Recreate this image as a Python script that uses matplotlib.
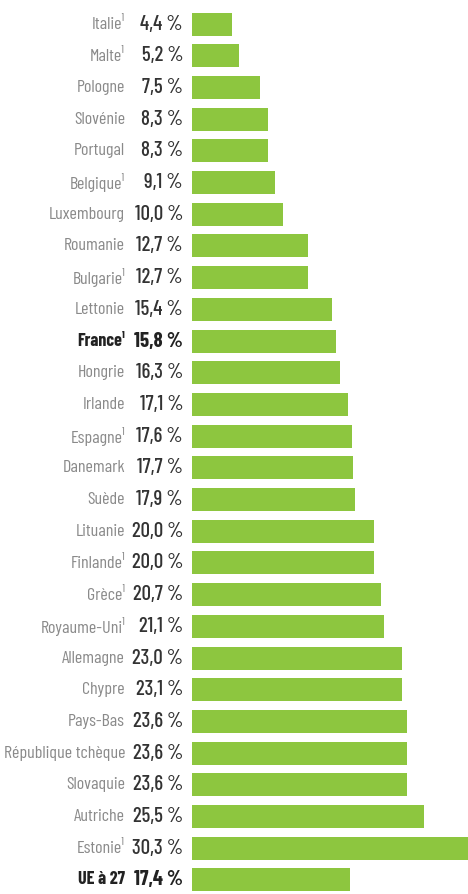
import matplotlib.pyplot as plt
import matplotlib.transforms as mtransforms

# Data
countries = ['Italie¹', 'Malte¹', 'Pologne', 'Slovénie', 'Portugal', 'Belgique¹',
             'Luxembourg', 'Roumanie', 'Bulgarie¹', 'Lettonie', 'France¹', 'Hongrie',
             'Irlande', 'Espagne¹', 'Danemark', 'Suède', 'Lituanie', 'Finlande¹',
             'Grèce¹', 'Royaume-Uni¹', 'Allemagne', 'Chypre', 'Pays-Bas',
             'République tchèque', 'Slovaquie', 'Autriche', 'Estonie¹', 'UE à 27']
values = [4.4, 5.2, 7.5, 8.3, 8.3, 9.1, 10.0, 12.7, 12.7, 15.4, 15.8, 16.3,
          17.1, 17.6, 17.7, 17.9, 20.0, 20.0, 20.7, 21.1, 23.0, 23.1, 23.6,
          23.6, 23.6, 25.5, 30.3, 17.4]
bold_rows = ['France¹', 'UE à 27']

family = ['Barlow Condensed', 'Roboto Condensed', 'DejaVu Sans']

W, H = 468, 894
fig = plt.figure(figsize=(W / 100, H / 100), dpi=100)
ax = fig.add_axes([192 / W, 0, 1 - 192 / W, 1])

step = 31.7
first = 24
ypos = list(range(len(countries)))
ax.barh(ypos, values, height=23 / step, color='#8dc63f')
ax.set_xlim(0, max(values))
ax.set_ylim((H - first) / step, -first / step)
ax.axis('off')

trans = mtransforms.blended_transform_factory(fig.transFigure, ax.transData)
for i, (name, v) in enumerate(zip(countries, values)):
    bold = name in bold_rows
    ax.text(125 / W, i, name, transform=trans, ha='right', va='center',
            fontsize=13, family=family, fontweight='bold' if bold else 'normal',
            color='#222222' if bold else '#8a8a8a')
    label = f'{v:.1f}'.replace('.', ',') + ' %'
    ax.text(183 / W, i, label, transform=trans, ha='right', va='center',
            fontsize=15, family=family, fontweight='bold' if bold else 'medium',
            color='#222222' if bold else '#333333')

fig.savefig('out.png', dpi=100)
